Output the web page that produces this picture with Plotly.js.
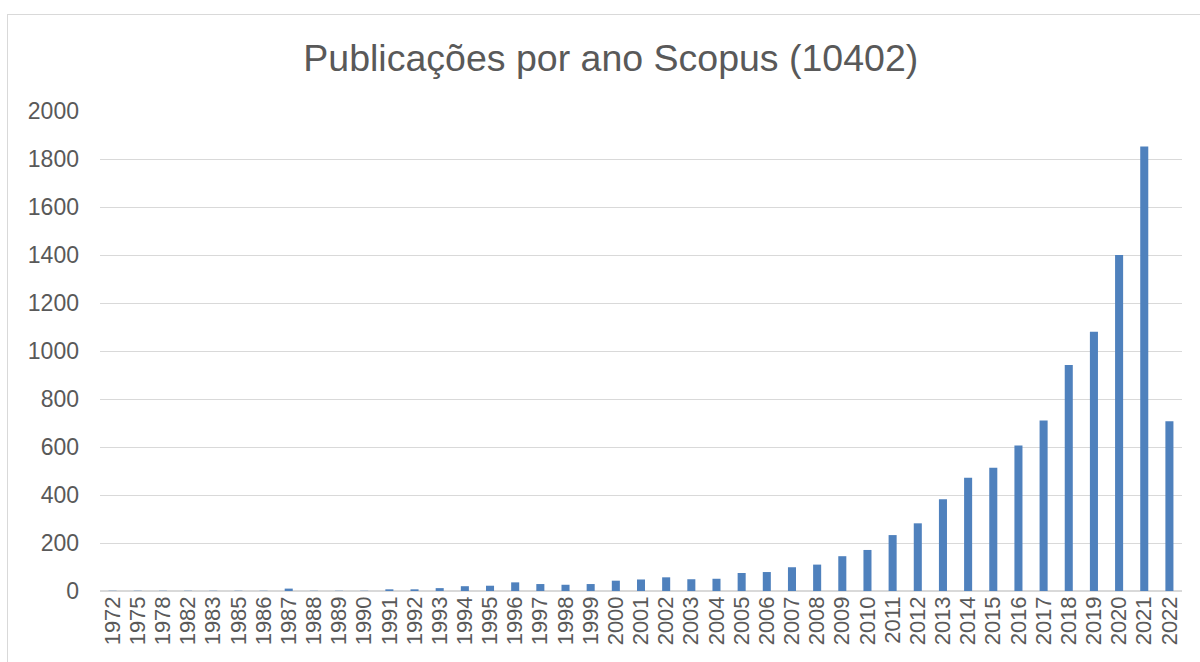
<!DOCTYPE html>
<html>
<head>
<meta charset="utf-8">
<script src="https://cdn.plot.ly/plotly-3.0.1.min.js"></script>
<style>
  html, body { margin: 0; padding: 0; background: #ffffff; }
  #wrap { position: relative; width: 1200px; height: 662px; overflow: hidden; }
  #chart { position: absolute; left: 0; top: 0; width: 1200px; height: 662px; }
  #frame { position: absolute; left: 7px; top: 14px; width: 1300px; height: 800px;
           border-left: 1px solid #d9d9d9; border-top: 1px solid #d9d9d9; pointer-events: none; }
</style>
</head>
<body>
<div id="wrap">
  <div id="chart"></div>
  <div id="frame"></div>
</div>
<script>
const years = ["1972","1975","1978","1982","1983","1985","1986","1987","1988","1989","1990",
  "1991","1992","1993","1994","1995","1996","1997","1998","1999","2000","2001","2002","2003",
  "2004","2005","2006","2007","2008","2009","2010","2011","2012","2013","2014","2015","2016",
  "2017","2018","2019","2020","2021","2022"];
const publications = [1,1,1,1,1,1,1,10,1,1,1,
  7,7,12,20,22,36,29,26,29,43,48,57,49,
  51,75,79,99,110,145,171,233,282,382,472,514,606,
  710,942,1080,1400,1852,707];
const yTicks = [0,200,400,600,800,1000,1200,1400,1600,1800,2000];
const titleText = "Publicações por ano Scopus (10402)";

const textColor = "#595959";
const gridColor = "#d9d9d9";

const trace = {
  type: "bar",
  x: years,
  y: publications,
  marker: { color: "#4f81bd" },
  hoverinfo: "x+y"
};

const layout = {
  width: 1200,
  height: 662,
  margin: { l: 100, r: 18, t: 111, b: 71 },
  paper_bgcolor: "#ffffff",
  plot_bgcolor: "#ffffff",
  font: { family: "Liberation Sans, Arial, sans-serif", color: textColor, size: 22 },
  title: {
    text: titleText,
    font: { size: 37.5, color: textColor, family: "Liberation Sans, Arial, sans-serif" },
    xref: "container", x: 0.509, xanchor: "center",
    yref: "container", y: 1 - 58/662, yanchor: "middle"
  },
  bargap: 0.68,
  showlegend: false,
  xaxis: {
    type: "category",
    tickmode: "array",
    tickvals: years,
    ticktext: years,
    tickangle: -90,
    tickfont: { size: 22, color: textColor },
    showgrid: false,
    showline: false,
    ticks: "",
    fixedrange: true
  },
  yaxis: {
    range: [0, 2000],
    tickvals: yTicks,
    ticktext: yTicks.map(String),
    tickfont: { size: 23, color: textColor },
    showgrid: true,
    gridcolor: gridColor,
    gridwidth: 1,
    zeroline: true,
    zerolinecolor: gridColor,
    zerolinewidth: 2,
    showline: false,
    ticks: "",
    ticklabelstandoff: 20,
    fixedrange: true
  }
};

Plotly.newPlot("chart", [trace], layout, { displayModeBar: false, staticPlot: true });
</script>
</body>
</html>
